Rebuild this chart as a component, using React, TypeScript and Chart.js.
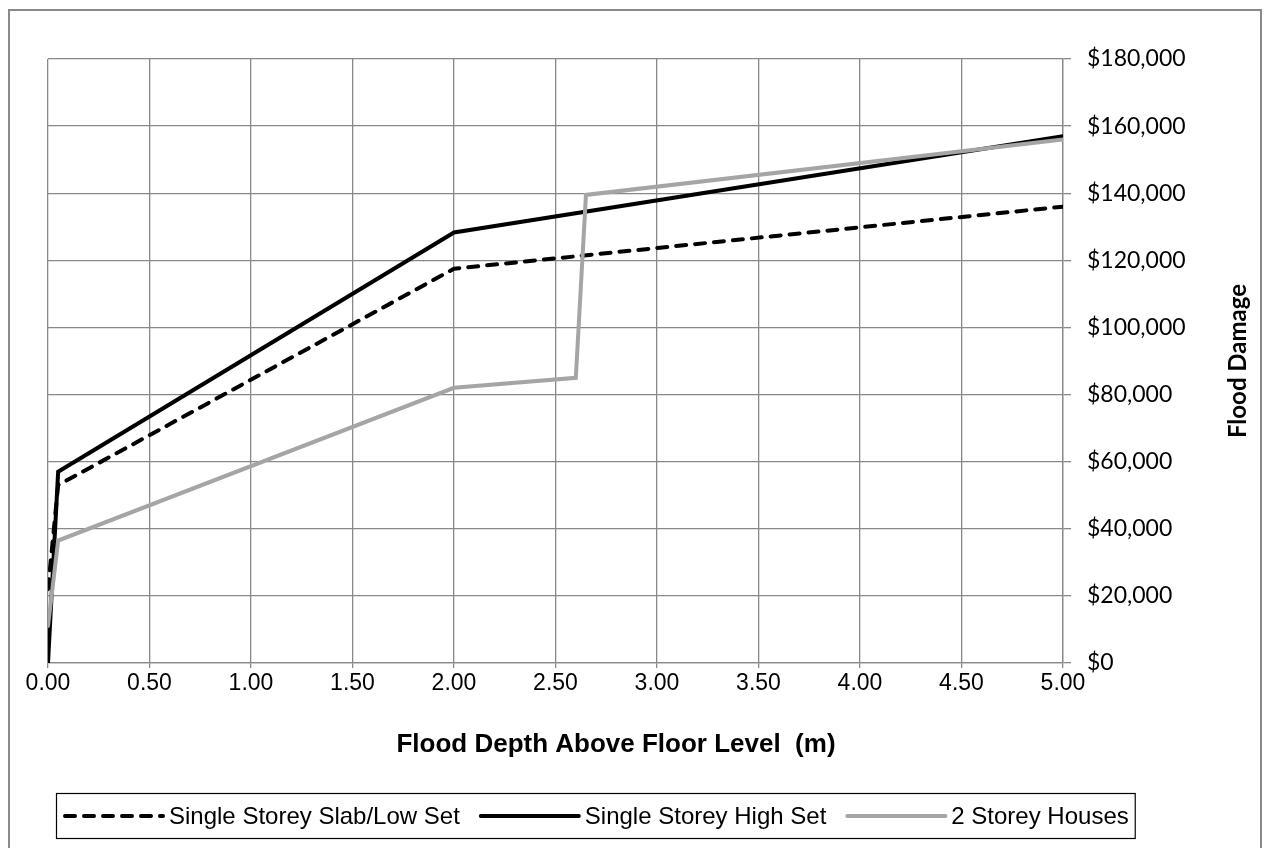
import React, { useEffect, useRef } from "react";
import { Chart, registerables } from "chart.js";

Chart.register(...registerables);

// ---- data ----
const slabDepths = [0, 0.05, 2.0, 5.0];
const slabDamage = [22000, 53000, 117500, 136000];

const highDepths = [0, 0.05, 2.0, 5.0];
const highDamage = [0, 57000, 128300, 157000];

const twoDepths = [0, 0.05, 2.0, 2.6, 2.65, 5.0];
const twoDamage = [11000, 36500, 82000, 85000, 139500, 156000];

const seriesNames = ["Single Storey Slab/Low Set", "Single Storey High Set", "2 Storey Houses"];
const xTitle = "Flood Depth Above Floor Level  (m)";
const yTitle = "Flood Damage";

const GRID = "#898989";
const GREY = "#a5a5a5";

const toPoints = (xs: number[], ys: number[]) => xs.map((x, i) => ({ x, y: ys[i] }));

const decorPlugin = {
  id: "decor",
  beforeDraw(chart: any) {
    const ctx = chart.ctx as CanvasRenderingContext2D;
    ctx.save();
    ctx.fillStyle = "#fff";
    ctx.fillRect(0, 0, chart.width, chart.height);
    ctx.strokeStyle = GRID;
    ctx.lineWidth = 2;
    ctx.strokeRect(9, 10, 1252, 900);
    ctx.restore();
  },
  afterDraw(chart: any) {
    const ctx = chart.ctx as CanvasRenderingContext2D;
    ctx.save();
    // x title
    ctx.fillStyle = "#000";
    ctx.font = 'bold 26px "Liberation Sans"';
    ctx.textAlign = "center";
    ctx.textBaseline = "middle";
    ctx.fillText(xTitle, 616, 745);
    // y title (rotated, bottom to top)
    ctx.save();
    ctx.translate(1238, 361);
    ctx.rotate(-Math.PI / 2);
    ctx.font = 'bold 24px "Lato"';
    ctx.fillText(yTitle, 0, 0);
    ctx.restore();

    // legend
    ctx.font = '24px "Liberation Sans"';
    ctx.textAlign = "left";
    const sampleW = 104;
    const gapS = 3;
    const gapItem = 18;
    const padL = 6;
    const padR = 6;
    const widths = seriesNames.map((n) => ctx.measureText(n).width);
    const total = padL + padR + widths.reduce((a, b) => a + b, 0) + 3 * (sampleW + gapS) + 2 * gapItem;
    const cx = 595;
    const left = Math.round(cx - total / 2);
    const top = 793;
    const h = 45;
    ctx.strokeStyle = "#000";
    ctx.lineWidth = 1.2;
    ctx.strokeRect(left + 0.5, top + 0.5, total, h);
    const yMid = top + h / 2 + 0.5;
    let x = left + padL;
    const ds = chart.data.datasets;
    for (let i = 0; i < 3; i++) {
      const d = ds[i];
      ctx.beginPath();
      ctx.strokeStyle = d.borderColor;
      ctx.lineWidth = d.borderWidth;
      ctx.lineCap = "round";
      ctx.setLineDash(d.borderDash || []);
      ctx.moveTo(x + 3, yMid);
      ctx.lineTo(x + sampleW - 3, yMid);
      ctx.stroke();
      ctx.setLineDash([]);
      x += sampleW + gapS;
      ctx.fillStyle = "#000";
      ctx.fillText(seriesNames[i], x, yMid + 1);
      x += widths[i] + gapItem;
    }
    ctx.restore();
  },
};

export default function App() {
  const ref = useRef<HTMLCanvasElement | null>(null);
  useEffect(() => {
    if (!ref.current) return;
    const chart = new Chart(ref.current, {
      type: "line",
      data: {
        datasets: [
          {
            label: seriesNames[0],
            data: toPoints(slabDepths, slabDamage),
            borderColor: "#000",
            borderWidth: 4,
            borderDash: [10, 9],
            borderCapStyle: "round",
            pointRadius: 0,
            tension: 0,
            order: 3,
          },
          {
            label: seriesNames[1],
            data: toPoints(highDepths, highDamage),
            borderColor: "#000",
            borderWidth: 4,
            borderCapStyle: "round",
            pointRadius: 0,
            tension: 0,
            order: 2,
          },
          {
            label: seriesNames[2],
            data: toPoints(twoDepths, twoDamage),
            borderColor: GREY,
            borderWidth: 4,
            borderCapStyle: "round",
            pointRadius: 0,
            tension: 0,
            order: 1,
          },
        ] as any,
      },
      options: {
        responsive: false,
        animation: false,
        parsing: false as any,
        layout: { padding: { left: 48, top: 59, right: 0, bottom: 0 } },
        plugins: {
          legend: { display: false },
          tooltip: { enabled: false },
          title: { display: false },
        },
        scales: {
          x: {
            type: "linear",
            min: 0,
            max: 5,
            position: "bottom",
            afterFit: (s: any) => {
              s.height = 848 - 663;
            },
            ticks: {
              stepSize: 0.5,
              callback: (v: any) => Number(v).toFixed(2),
              font: { family: "Liberation Sans", size: 23 },
              color: "#000",
              padding: 2,
              maxRotation: 0,
              autoSkip: false,
            },
            grid: { color: GRID, lineWidth: 1.3, tickLength: 5 },
            border: { color: GRID, width: 1.3 },
          },
          y: {
            type: "linear",
            position: "right",
            min: 0,
            max: 180000,
            afterFit: (s: any) => {
              s.width = 1266 - 1063;
            },
            ticks: {
              stepSize: 20000,
              callback: (v: any) => "$" + Number(v).toLocaleString("en-US"),
              font: { family: "Lato", size: 23 },
              color: "#000",
              padding: 16,
            },
            grid: { color: GRID, lineWidth: 1.3, tickLength: 8 },
            border: { color: GRID, width: 1.3 },
          },
        },
      } as any,
      plugins: [decorPlugin],
    });
    return () => chart.destroy();
  }, []);
  return (
    <div style={{ position: "fixed", left: 0, top: 0, width: 1266, height: 848, overflow: "hidden", background: "#fff" }}>
      <canvas ref={ref} width={1266} height={848} style={{ display: "block", width: 1266, height: 848 }} />
    </div>
  );
}
